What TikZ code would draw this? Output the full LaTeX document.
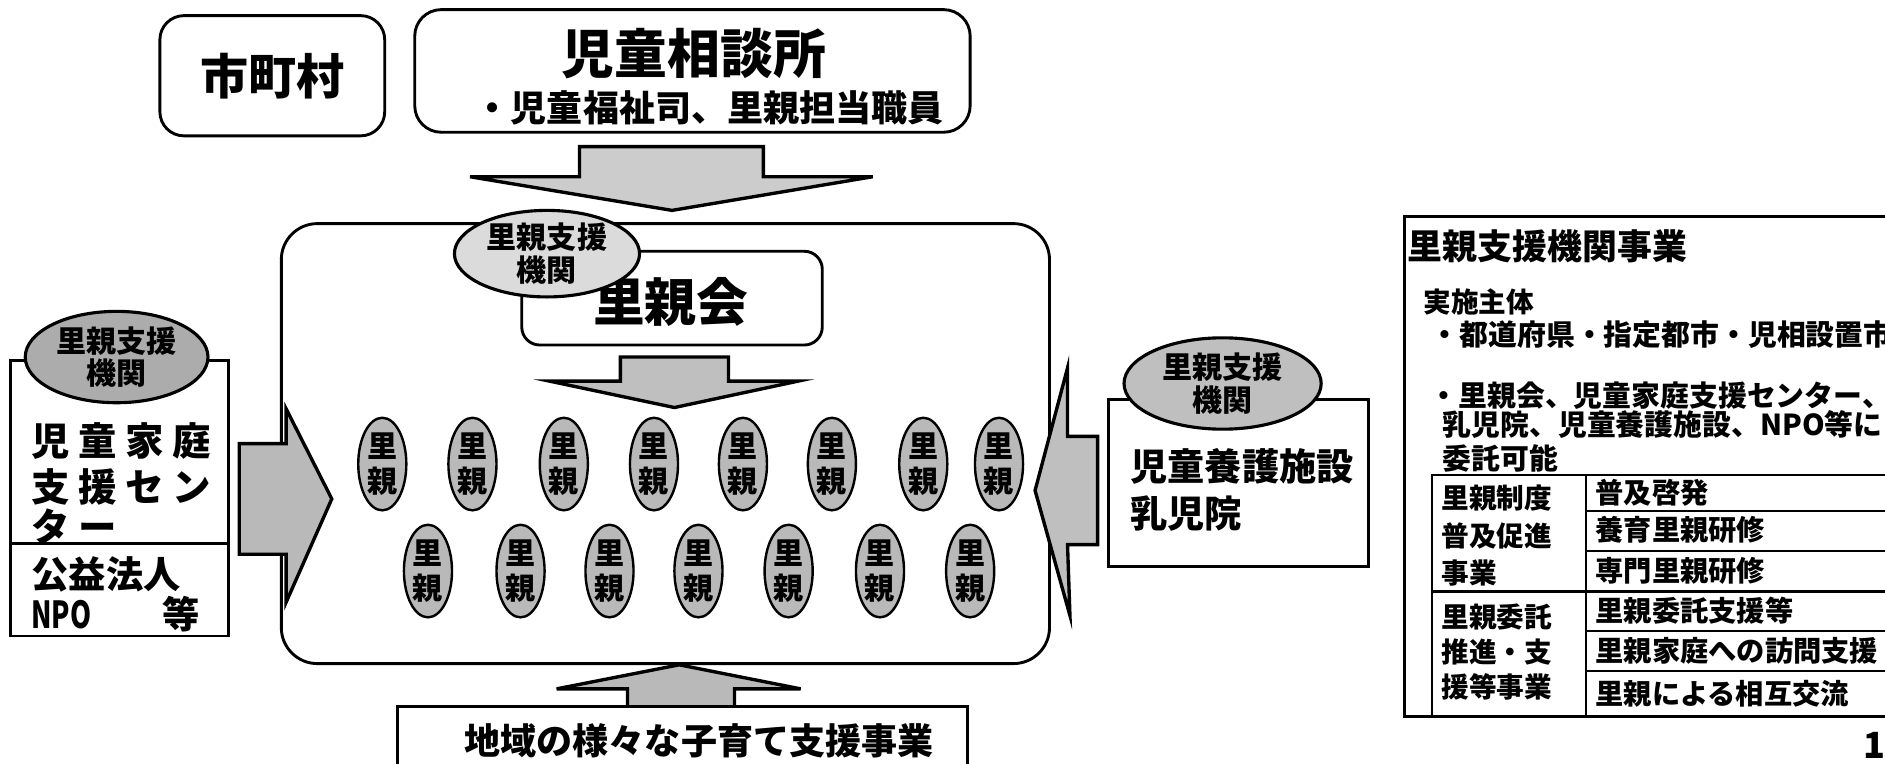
\documentclass[tikz,border=0pt]{standalone}
\usepackage{fontspec}
\setmainfont{Noto Sans CJK JP}
\usepackage{graphicx}
\usetikzlibrary{shapes.geometric}
\newcommand{\fs}[1]{\fontsize{#1}{#1}\selectfont}
\newcommand{\lc}[1]{\makebox[39pt][l]{#1}}
\begin{document}
\begin{tikzpicture}[x=1pt,y=-1pt,
  bx/.style={draw, line width=2.4pt, inner sep=0pt, fill=white},
  org/.style={ellipse, draw, line width=2.6pt, inner sep=0pt, align=center,
     font=\bfseries\fontsize{25}{27}\selectfont},
  sato/.style={ellipse, draw, line width=2pt, fill=gray!55, minimum width=40pt,
     minimum height=77pt, inner sep=0pt, align=center,
     font=\bfseries\fontsize{25}{29}\selectfont},
  blk/.style={fill=gray!40, draw=black, line width=2.8pt, line join=miter},
  txt/.style={inner sep=0pt, anchor=west},
  tbl/.style={draw, line width=1.8pt}]
\useasboundingbox (0,0) rectangle (1568,635);
\clip (0,0) rectangle (1568,635);
\fill[white] (0,0) rectangle (1568,635);

% top boxes
\node[bx, rounded corners=20pt, minimum width=187pt, minimum height=100pt,
      font=\bfseries\fs{40}] (shi) at (226.5,63) {市町村};
\node[bx, rounded corners=22pt, minimum width=462pt, minimum height=102pt] (jiso) at (576,59) {};
\node[inner sep=0pt, font=\bfseries\fs{44}] (jisot) at (577,45) {児童相談所};
\node[inner sep=0pt, font=\bfseries\fs{30}] (jisos) at (590,90) {・児童福祉司、里親担当職員};

% top arrow
\draw[blk] (482,122) -- (635,122) -- (635,147) -- (726,147) -- (559,175)
   -- (391,147) -- (482,147) -- cycle;

% big box
\node[bx, rounded corners=30pt, minimum width=639pt, minimum height=366pt] (big) at (553.5,369) {};

% satooyakai
\node[bx, rounded corners=15pt, minimum width=250pt, minimum height=78pt] (kai) at (559,248) {};
\node[inner sep=0pt, font=\bfseries\fs{43}] (kait) at (558,251) {里親会};
\node[org, fill=gray!28, minimum width=154pt, minimum height=72pt] (org1) at (455,211) {里親支援\\機関};

% inner arrow
\draw[blk, fill=gray!50] (516,297) -- (606,297) -- (606,317) -- (664,317) -- (561,339)
   -- (457,317) -- (516,317) -- cycle;

% satooya ellipses
\foreach \x [count=\i] in {318,393,469,544,618,692,768,831}
  \node[sato] (a\i) at (\x,386) {里\\親};
\foreach \x [count=\i] in {356,433,507,581,656,732,807}
  \node[sato] (b\i) at (\x,475) {里\\親};

% left box
\node[bx, minimum width=181pt, minimum height=229pt] (lbox) at (99.5,414.5) {};
\draw[line width=2.4pt] (lbox.west |- 0,452) -- (lbox.east |- 0,452);
\node[org, fill=gray!65, minimum width=152pt, minimum height=76pt] (org2) at (97,297) {里親支援\\機関};
\node[txt, font=\bfseries\fs{32}] (l1) at (26,367) {\lc{児}\lc{童}\lc{家}\lc{庭}};
\node[txt, font=\bfseries\fs{32}] (l2) at (26,405) {\lc{支}\lc{援}\lc{セ}\lc{ン}};
\node[txt, font=\bfseries\fs{32}] (l3) at (26,438) {\lc{タ}\lc{ー}};
\node[txt, font=\bfseries\fs{31}] (l4) at (26,478) {公益法人};
\node[txt, font=\bfseries\fs{31}] (l5) at (26,511) {\scalebox{0.72}[1]{NPO}};
\node[txt, font=\bfseries\fs{31}] (l6) at (135,511) {等};

% left arrow
\draw[blk, fill=gray!55] (199,369) -- (238,369) -- (238,340) -- (276,415) -- (238,501)
   -- (238,461) -- (199,461) -- cycle;

% right box
\node[bx, minimum width=216pt, minimum height=139pt] (rbox) at (1030,401.5) {};
\node[org, fill=gray!50, minimum width=164pt, minimum height=76pt] (org3) at (1017,319) {里親支援\\機関};
\node[txt, font=\bfseries\fs{31}] (r1) at (940,388) {児童養護施設};
\node[txt, font=\bfseries\fs{31}] (r2) at (940,427) {乳児院};

% right arrow
\draw[blk, fill=gray!50] (888,363) -- (888,306) -- (861,408) -- (890,512) -- (888,453)
   -- (913,453) -- (913,363) -- cycle;

% bottom arrow and box
\draw[blk, fill=gray!55] (522,588) -- (522,573) -- (463,573) -- (565,553) -- (666,573)
   -- (611,573) -- (611,588) -- cycle;
\node[bx, minimum width=474pt, minimum height=80pt] (bbox) at (568,628) {};
\node[inner sep=0pt, font=\bfseries\fs{30}] (bt) at (581.5,616) {地域の様々な子育て支援事業};

% right panel
\node[draw, line width=2.4pt, minimum width=450pt, minimum height=416pt, inner sep=0pt] (panel) at (1393,388) {};
\node[txt, font=\bfseries\fs{29}] (p0) at (1171,205) {里親支援機関事業};
\node[txt, font=\bfseries\fs{23}] (p1) at (1184,251) {実施主体};
\node[txt, font=\bfseries\fs{24}] (p2) at (1190,278) {・都道府県・指定都市・児相設置市};
\node[txt, font=\bfseries\fs{24}] (p3) at (1189,329) {・里親会、児童家庭支援センター、};
\node[txt, font=\bfseries\fs{24}] (p4) at (1200,353) {乳児院、児童養護施設、NPO等に};
\node[txt, font=\bfseries\fs{24}] (p5) at (1200,381) {委託可能};

% table
\draw[tbl] (1191,596) -- (1191,395) -- (1600,395);
\draw[tbl] (1319,395) -- (1319,596);
\draw[tbl] (1191,492) -- (1600,492);
\foreach \y in {425,458,525,558} \draw[tbl] (1319,\y) -- (1600,\y);
\node[txt, font=\bfseries\fs{23}] (c1) at (1199,414) {里親制度};
\node[txt, font=\bfseries\fs{23}] (c2) at (1199,446) {普及促進};
\node[txt, font=\bfseries\fs{23}] (c3) at (1199,477) {事業};
\node[txt, font=\bfseries\fs{23}] (c4) at (1199,513) {里親委託};
\node[txt, font=\bfseries\fs{23}] (c5) at (1199,542) {推進・支};
\node[txt, font=\bfseries\fs{23}] (c6) at (1199,571) {援等事業};
\node[txt, font=\bfseries\fs{23.5}] (d1) at (1327,410) {普及啓発};
\node[txt, font=\bfseries\fs{23.5}] (d2) at (1327,441) {養育里親研修};
\node[txt, font=\bfseries\fs{23.5}] (d3) at (1327,475) {専門里親研修};
\node[txt, font=\bfseries\fs{23.5}] (d4) at (1327,508) {里親委託支援等};
\node[txt, font=\bfseries\fs{23.5}] (d5) at (1327,541) {里親家庭への訪問支援};
\node[txt, font=\bfseries\fs{23.5}] (d6) at (1327,577) {里親による相互交流};

\node[inner sep=0pt, font=\bfseries\fs{30}] (pg) at (1559,620) {1};
\end{tikzpicture}
\end{document}
